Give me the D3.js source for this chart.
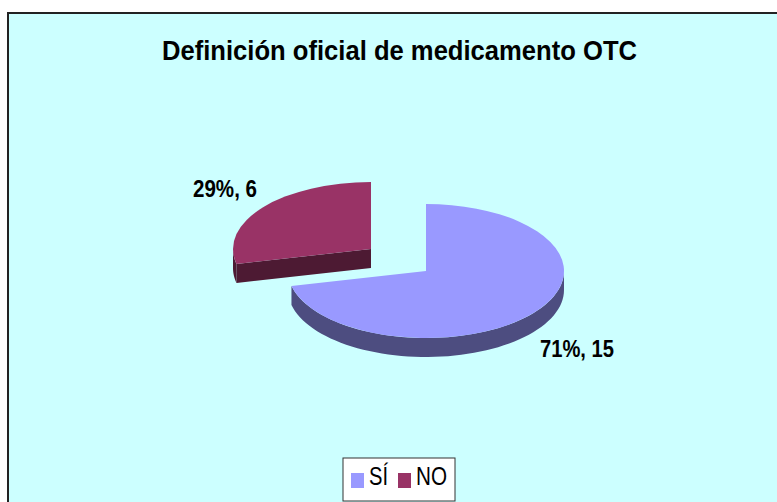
<!DOCTYPE html>
<html>
<head>
<meta charset="utf-8">
<script src="https://cdn.jsdelivr.net/npm/d3@7"></script>
<style>
  html, body { margin: 0; padding: 0; background: #fff; }
  svg { display: block; }
  text { font-family: "Liberation Sans", Arial, sans-serif; fill: #000; }
</style>
</head>
<body>
<script>
const width = 777;
const height = 502;

const categories = ['SÍ', 'NO'];
const values = [15, 6];
const percents = ['71%', '29%'];
const colors = ['#9999FF', '#993366'];
const sideColors = ['#4D4D80', '#4D1A33'];

// each slice has its own centre because the NO slice is pulled out
const centers = [[426, 271], [371, 249]];
const labelPos = [[540, 357], [193, 197]];
const labelWidths = [74, 64];
const legendWidths = [19, 31];
const rx = 138;
const ry = 67;
const depth = 19;

const svg = d3.select('body')
    .append('svg')
    .attr('width', width)
    .attr('height', height);

svg.append('rect')
    .attr('x', 8)
    .attr('y', 13)
    .attr('width', width)
    .attr('height', height)
    .attr('fill', '#CCFFFF')
    .attr('stroke', '#222')
    .attr('stroke-width', 2);

svg.append('text')
    .attr('x', 162)
    .attr('y', 60)
    .attr('font-size', 28)
    .attr('font-weight', 'bold')
    .attr('textLength', 475)
    .attr('lengthAdjust', 'spacingAndGlyphs')
    .text('Definición oficial de medicamento OTC');

const pie = d3.pie().sort(null);
const arcs = pie(values);

const arc = d3.arc().innerRadius(0).outerRadius(rx);
const flat = ry / rx;

// point on the tilted rim, angle 0 at the top, clockwise
const rim = a => [Math.sin(a) * rx, -Math.cos(a) * ry];

// the wall under the rim, only the front half can be seen
function wallPath(d) {
    const a0 = Math.max(d.startAngle, Math.PI / 2);
    const a1 = Math.min(d.endAngle, 3 * Math.PI / 2);
    if (a0 >= a1) return null;
    const steps = d3.range(0, 61).map(i => a0 + (a1 - a0) * i / 60);
    const top = steps.map(rim);
    const bottom = steps.map(rim).reverse().map(p => [p[0], p[1] + depth]);
    return d3.line()(top.concat(bottom)) + 'Z';
}

const slices = svg.selectAll('g.slice')
    .data(arcs)
    .enter()
    .append('g')
    .attr('class', 'slice')
    .attr('transform', (d, i) => `translate(${centers[i][0]}, ${centers[i][1]})`);

// cut face of the pulled out slice, from its centre to the rim
slices.filter(d => d.startAngle > Math.PI)
    .append('path')
    .attr('fill', (d) => sideColors[d.index])
    .attr('d', d => {
        const p = rim(d.startAngle);
        return d3.line()([[0, 0], p, [p[0], p[1] + depth], [0, depth]]) + 'Z';
    });

slices.append('path')
    .attr('fill', d => sideColors[d.index])
    .attr('d', wallPath);

slices.append('path')
    .attr('fill', d => colors[d.index])
    .attr('transform', `scale(1, ${flat})`)
    .attr('d', arc);

svg.selectAll('text.label')
    .data(arcs)
    .enter()
    .append('text')
    .attr('class', 'label')
    .attr('x', (d, i) => labelPos[i][0])
    .attr('y', (d, i) => labelPos[i][1])
    .attr('font-size', 24)
    .attr('font-weight', 'bold')
    .attr('textLength', (d, i) => labelWidths[i])
    .attr('lengthAdjust', 'spacingAndGlyphs')
    .text((d, i) => `${percents[i]}, ${d.data}`);

// legend
svg.append('rect')
    .attr('x', 343)
    .attr('y', 458)
    .attr('width', 112)
    .attr('height', 43)
    .attr('fill', '#fff')
    .attr('stroke', '#333')
    .attr('stroke-width', 1);

const legendX = d3.scalePoint().domain(categories).range([351, 398]);

const legend = svg.selectAll('g.legend')
    .data(categories)
    .enter()
    .append('g')
    .attr('class', 'legend')
    .attr('transform', d => `translate(${legendX(d)}, 473)`);

legend.append('rect')
    .attr('width', 13)
    .attr('height', 15)
    .attr('fill', (d, i) => colors[i]);

legend.append('text')
    .attr('x', 18)
    .attr('y', 12)
    .attr('font-size', 25)
    .attr('textLength', (d, i) => legendWidths[i])
    .attr('lengthAdjust', 'spacingAndGlyphs')
    .text(d => d);
</script>
</body>
</html>
